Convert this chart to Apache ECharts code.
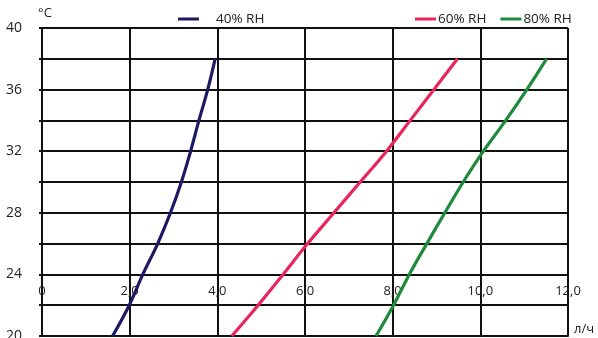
<!DOCTYPE html>
<html><head><meta charset="utf-8">
<script src="https://cdn.jsdelivr.net/npm/echarts@6/dist/echarts.min.js"></script>
<style>html,body{margin:0;padding:0;background:#fff}#c{width:598px;height:338px}</style>
</head><body><div id="c"></div>
<script>
var temps = [20, 22, 24, 26, 28, 30, 32, 34, 36, 38];
var rh40 = [1.61, 1.99, 2.30, 2.64, 2.93, 3.18, 3.39, 3.58, 3.78, 3.95];
var rh60 = [4.33, 4.93, 5.50, 6.06, 6.66, 7.26, 7.86, 8.40, 8.94, 9.48];
var rh80 = [7.62, 8.02, 8.38, 8.78, 9.19, 9.61, 10.07, 10.58, 11.06, 11.51];
var seriesNames = ['40% RH', '60% RH', '80% RH'];
var seriesColors = ['#1c1a63', '#e8265a', '#1f8a3c'];

function pairs(xs){ return xs.map(function(x,i){ return [x, temps[i]]; }); }
var font = 'Open Sans';
var chart = echarts.init(document.getElementById('c'), null, {renderer:'canvas'});
var data = [rh40, rh60, rh80];
chart.setOption({
  animation: false,
  backgroundColor: '#fff',
  textStyle: {fontFamily: font},
  grid: {left: 42, right: 30, top: 28, bottom: 2, outerBoundsMode: 'none', containLabel: false},
  legend: [
    {data: [seriesNames[0]], left: 173, top: 7, icon: 'rect', itemWidth: 21, itemHeight: 3,
     textStyle: {fontFamily: font, fontSize: 13.5, color: '#222', padding: [0,0,0,12]}},
    {data: [seriesNames[1], seriesNames[2]], left: 410, top: 7, icon: 'rect', itemWidth: 21, itemHeight: 3, itemGap: 14,
     textStyle: {fontFamily: font, fontSize: 13.5, color: '#222', padding: [0,0,0,-3]}}
  ],
  xAxis: {
    type: 'value', min: 0, max: 12, interval: 2,
    name: 'л/ч', nameLocation: 'end', nameGap: 6,
    nameTextStyle: {fontFamily: font, fontSize: 13, color: '#222', verticalAlign: 'bottom', padding: [0,0,0,0]},
    axisLine: {show: true, lineStyle: {color: '#111', width: 2}},
    axisTick: {show: false},
    axisLabel: {margin: -51, fontFamily: font, fontSize: 13, color: '#222',
      formatter: function(v){ return v === 0 ? '0' : v.toFixed(1).replace('.', ','); }},
    splitLine: {show: true, lineStyle: {color: '#111', width: 2}}
  },
  yAxis: {
    type: 'value', min: 20, max: 40, interval: 2,
    name: '°C', nameLocation: 'end', nameGap: 8,
    nameTextStyle: {fontFamily: font, fontSize: 13, color: '#222', padding: [0,0,0,6]},
    axisLine: {show: true, lineStyle: {color: '#111', width: 2}},
    axisTick: {show: true, length: 3, lineStyle: {color: '#111', width: 2}},
    axisLabel: {margin: 20, fontFamily: font, fontSize: 14, color: '#222', padding: [0,0,4,0],
      formatter: function(v){ return (v % 4 === 0) ? String(v) : ''; }},
    splitLine: {show: true, lineStyle: {color: '#111', width: 2}}
  },
  series: data.map(function(d, i){
    return {name: seriesNames[i], type: 'line', data: pairs(d), smooth: 0.4,
      showSymbol: false, symbol: 'none', color: seriesColors[i],
      lineStyle: {width: 3.2, color: seriesColors[i]}, z: 5};
  })
});
</script></body></html>
